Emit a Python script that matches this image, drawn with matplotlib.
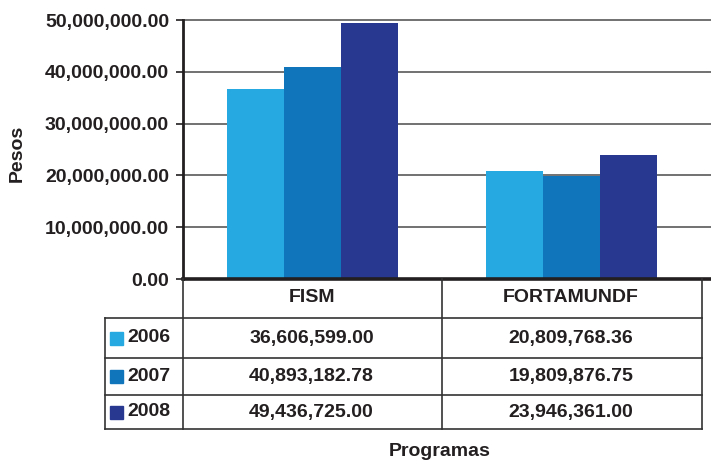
import matplotlib
matplotlib.use("Agg")
import matplotlib.pyplot as plt
from matplotlib.lines import Line2D
import numpy as np

categories = ["FISM", "FORTAMUNDF"]
years = ["2006", "2007", "2008"]
values_2006 = [36606599.00, 20809768.36]
values_2007 = [40893182.78, 19809876.75]
values_2008 = [49436725.00, 23946361.00]
series = [values_2006, values_2007, values_2008]
colors = ["#25A9E0", "#1175BB", "#283891"]
yticks = [0, 10000000, 20000000, 30000000, 40000000, 50000000]

W, H = 711, 462
plt.rcParams['font.family'] = ['Liberation Sans', 'DejaVu Sans']
plt.rcParams['font.weight'] = 'bold'
FS = 14
TC = "#231f20"
fig = plt.figure(figsize=(W/100, H/100), dpi=100)

def fx(px):
    return px / W

def fy(py):
    return 1 - py / H

ax_left, ax_right, ax_top, ax_bottom = 183, 701.5, 20, 279
ax = fig.add_axes([fx(ax_left), fy(ax_bottom), fx(ax_right) - fx(ax_left), fy(ax_top) - fy(ax_bottom)])
ax.set_xlim(-0.5, 1.5)
ax.set_ylim(0, 50000000)

bw = 0.22
x = np.arange(len(categories))
for i, (vals, c) in enumerate(zip(series, colors)):
    ax.bar(x + (i - 1) * bw, vals, width=bw, color=c, zorder=3, linewidth=0)

# gridlines extending to the figure edge
for t in yticks[1:]:
    ax.axhline(t, xmin=0, xmax=(711 - ax_left) / (ax_right - ax_left), color="#4a4a4a",
               lw=1.1, clip_on=False, zorder=1)

for s in ["top", "right"]:
    ax.spines[s].set_visible(False)
ax.spines["left"].set_linewidth(2.0)
ax.spines["left"].set_color(TC)
ax.spines["bottom"].set_visible(False)
ax.axhline(0, xmin=0, xmax=(711 - ax_left) / (ax_right - ax_left), color=TC,
           lw=2.6, clip_on=False, zorder=4)

ax.set_yticks(yticks)
ax.set_yticklabels([f"{t:,.2f}" for t in yticks], fontsize=FS, fontweight='bold', color=TC)
ax.tick_params(axis='y', length=5, width=1.2, color=TC, pad=5)
ax.set_xticks([])

# table
lc = "#333333"
lw = 1.2
def hline(y, x0, x1, w=lw):
    fig.add_artist(Line2D([fx(x0), fx(x1)], [fy(y), fy(y)], color=lc, lw=w))

def vline(xp, y0, y1, w=lw):
    fig.add_artist(Line2D([fx(xp), fx(xp)], [fy(y0), fy(y1)], color=lc, lw=w))

row_lines = [318, 357.5, 395, 429]
for y in row_lines:
    hline(y, 104.5, 702)
vline(104.5, 318, 429)
vline(183, 279, 429)
vline(442, 279, 429)
vline(702, 279, 429)

col_centers = [311.5, 571]
header_y = 298
for cx, cat in zip(col_centers, categories):
    fig.text(fx(cx), fy(header_y), cat, ha='center', va='center', fontsize=FS,
             fontweight='bold', color=TC)

row_centers = [338, 376.5, 412]
for yr, vals, c, ry in zip(years, series, colors, row_centers):
    fig.add_artist(plt.Rectangle((fx(110), fy(ry + 6.5)), fx(13), fy(0) - fy(13),
                                 color=c, transform=fig.transFigure))
    fig.text(fx(127), fy(ry), yr, ha='left', va='center', fontsize=FS,
             fontweight='bold', color=TC)
    for cx, v in zip(col_centers, vals):
        fig.text(fx(cx), fy(ry), f"{v:,.2f}", ha='center', va='center', fontsize=FS,
                 fontweight='bold', color=TC)

fig.text(fx(440), fy(452), "Programas", ha='center', va='center', fontsize=FS,
         fontweight='bold', color=TC)
fig.text(fx(17), fy(153), "Pesos", ha='center', va='center', rotation=90, fontsize=FS,
         fontweight='bold', color=TC)

fig.savefig("out.png", dpi=100)
